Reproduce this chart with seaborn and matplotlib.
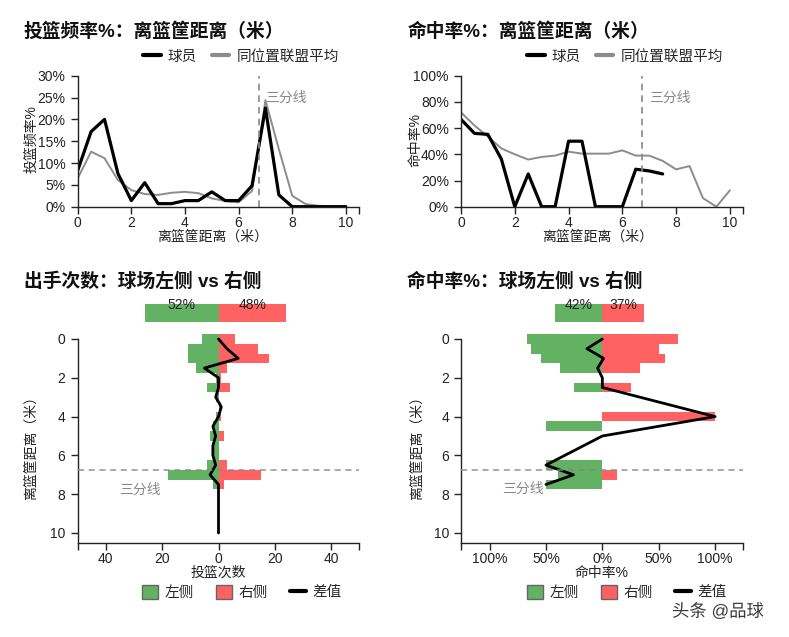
import numpy as np
import pandas as pd
import matplotlib
matplotlib.use("Agg")
import matplotlib.pyplot as plt
import matplotlib.patheffects as pe
import seaborn as sns
from matplotlib.lines import Line2D
from matplotlib.patches import Patch

# ---------------- data ----------------
dist = [0, 0.5, 1, 1.5, 2, 2.5, 3, 3.5, 4, 4.5, 5, 5.5, 6, 6.5, 7, 7.5, 8, 8.5, 9, 9.5, 10]

freq_player = [8.3, 17.2, 20.0, 7.6, 1.4, 5.5, 0.7, 0.7, 1.4, 1.4, 3.4, 1.4, 1.4, 4.8, 22.6, 2.7,
               0, 0, 0, 0, 0]
freq_league = [6.5, 12.6, 11.1, 6.1, 3.8, 2.9, 2.7, 3.2, 3.4, 3.1, 1.9, 1.3, 1.0, 3.6, 24.4, 13.2,
               2.5, 0.6, 0.2, 0.1, 0.1]

nan = np.nan
fg_player = [66.7, 56.0, 55.2, 36.4, 0, 25.0, 0, 0, 50, 50, 0, 0, 0, 28.6, 27.3, 25.0,
             nan, nan, nan, nan, nan]
fg_league = [72, 62, 53.5, 44.5, 40, 36, 38, 39, 42, 40.5, 40.5, 40.5, 43, 39, 39, 35,
             28.5, 31, 6.5, 0, 12.5]

left_cnt = [6, 11, 11, 8, 1, 4, 1, 0, 1, 2, 3, 2, 2, 4, 18, 2, 0, 0, 0, 0, 0]
right_cnt = [6, 14, 18, 3, 1, 4, 0, 1, 1, 0, 2, 0, 0, 3, 15, 2, 0, 0, 0, 0, 0]
cnt_diff = [0, 3, 7, -5, 0, 0, -1, 1, 0, -2, -1, -2, -2, -1, -3, 0, 0, 0, 0, 0, 0]

left_fg = [66.7, 63.6, 54.5, 37.5, 0, 25, 0, nan, 0, 50, 0, 0, 0, 50, 38.9, 50,
           nan, nan, nan, nan, nan]
right_fg = [66.7, 50, 55.6, 33.3, 0, 25, nan, 0, 100, nan, 0, nan, nan, 0, 13.3, 0,
            nan, nan, nan, nan, nan]
fg_diff = [0, -13.6, 1.1, -4.2, 0, 0, nan, nan, 100, nan, 0, nan, nan, -50, -25.6, -50,
           nan, nan, nan, nan, nan]

cnt_share = [52, 48]      # % of shots left / right
fg_total = [42, 37]       # FG% left / right

three_pt = 6.75

# ---------------- style ----------------
sns.set_style("ticks")
plt.rcParams["font.family"] = ["Liberation Sans", "Noto Sans CJK SC"]
plt.rcParams["axes.unicode_minus"] = False
plt.rcParams["axes.edgecolor"] = "#222222"
plt.rcParams["xtick.color"] = "#222222"
plt.rcParams["ytick.color"] = "#222222"
plt.rcParams["axes.linewidth"] = 1.0

GREEN = "#63b163"
RED = "#fe6262"
GRAY = "#8c8c8c"
DASH = "#888888"
TXT = "#222222"

fig = plt.figure(figsize=(7.89, 6.37), dpi=100)
W, H = 789.0, 637.0


def ax_rect(x0, x1, ytop, ybot):
    return [x0 / W, 1 - ybot / H, (x1 - x0) / W, (ybot - ytop) / H]


ax1 = fig.add_axes(ax_rect(77.7, 359.3, 75.7, 206.7))
ax2 = fig.add_axes(ax_rect(461.0, 743.3, 75.7, 206.7))
ax3 = fig.add_axes(ax_rect(77.7, 359.3, 296.3, 542.7))
ax4 = fig.add_axes(ax_rect(461.4, 743.3, 296.3, 542.7))

for ax in (ax1, ax2, ax3, ax4):
    ax.tick_params(axis="both", labelsize=10, length=4.8, width=1.0, labelcolor=TXT)
    ax.tick_params(axis="x", pad=2)
    ax.tick_params(axis="y", pad=4)

df_top = pd.DataFrame({"dist": dist, "freq_player": freq_player, "freq_league": freq_league,
                       "fg_player": fg_player, "fg_league": fg_league})

# ---------- top-left: shot frequency ----------
sns.lineplot(data=df_top, x="dist", y="freq_league", color=GRAY, lw=1.4, ax=ax1)
sns.lineplot(data=df_top, x="dist", y="freq_player", color="black", lw=2.3, ax=ax1)
ax1.axvline(three_pt, color=DASH, ls=(0, (4, 3)), lw=1.2)
ax1.text(7.0, 25, "三分线", color=DASH, fontsize=10, va="center", ha="left")
ax1.set_xlim(0, 10.5)
ax1.set_ylim(0, 30)
ax1.set_xticks([0, 2, 4, 6, 8, 10, 10.5])
ax1.set_xticklabels(["0", "2", "4", "6", "8", "10", ""])
ax1.set_yticks([0, 5, 10, 15, 20, 25, 30])
ax1.set_yticklabels([f"{v}%" for v in [0, 5, 10, 15, 20, 25, 30]])
ax1.set_xlabel("离篮筐距离（米）", fontsize=10, color=TXT)
ax1.set_ylabel("投篮频率%", fontsize=10, color=TXT)
ax1.xaxis.set_label_coords(0.48, -0.175)
ax1.yaxis.set_label_coords(-0.14, 0.52)
sns.despine(ax=ax1)

# ---------- top-right: FG% ----------
sns.lineplot(data=df_top, x="dist", y="fg_league", color=GRAY, lw=1.4, ax=ax2)
sns.lineplot(data=df_top, x="dist", y="fg_player", color="black", lw=2.3, ax=ax2)
ax2.axvline(three_pt, color=DASH, ls=(0, (4, 3)), lw=1.2)
ax2.text(7.0, 83.5, "三分线", color=DASH, fontsize=10, va="center", ha="left")
ax2.set_xlim(0, 10.5)
ax2.set_ylim(0, 100)
ax2.set_xticks([0, 2, 4, 6, 8, 10, 10.5])
ax2.set_xticklabels(["0", "2", "4", "6", "8", "10", ""])
ax2.set_yticks([0, 20, 40, 60, 80, 100])
ax2.set_yticklabels([f"{v}%" for v in [0, 20, 40, 60, 80, 100]])
ax2.set_xlabel("离篮筐距离（米）", fontsize=10, color=TXT)
ax2.set_ylabel("命中率%", fontsize=10, color=TXT)
ax2.xaxis.set_label_coords(0.4835, -0.175)
ax2.yaxis.set_label_coords(-0.135, 0.51)
sns.despine(ax=ax2)

# ---------- bottom-left: shot counts left vs right ----------
d = np.array(dist)
lc = np.array(left_cnt, dtype=float)
rc = np.array(right_cnt, dtype=float)
ax3.barh(d, -lc, height=0.5, color=GREEN, lw=0)
ax3.barh(d, rc, height=0.5, color=RED, lw=0)
ax3.barh(-1.34, -cnt_share[0] / 2, height=0.9, color=GREEN, lw=0)
ax3.barh(-1.34, cnt_share[1] / 2, height=0.9, color=RED, lw=0)
ax3.text(-cnt_share[0] / 4, -1.75, f"{cnt_share[0]}%", ha="center", va="center", fontsize=10, color=TXT)
ax3.text(cnt_share[1] / 4, -1.75, f"{cnt_share[1]}%", ha="center", va="center", fontsize=10, color=TXT)
df_cnt = pd.DataFrame({"dist": dist, "diff": cnt_diff})
sns.lineplot(data=df_cnt, x="diff", y="dist", sort=False, orient="y", estimator=None,
             color="black", lw=2.0, ax=ax3)
ax3.axhline(three_pt, color=DASH, ls=(0, (4, 3)), lw=1.1, alpha=0.9, zorder=3)
ax3.text(-27.8, 7.78, "三分线", color=DASH, fontsize=10, ha="center", va="center")
ax3.set_xlim(-50, 50)
ax3.set_ylim(10.5, -2.2)
ax3.set_xticks([-50, -40, -20, 0, 20, 40, 50])
ax3.set_xticklabels(["", "40", "20", "0", "20", "40", ""])
ax3.set_yticks([0, 2, 4, 6, 8, 10])
ax3.set_yticklabels(["0", "2", "4", "6", "8", "10"])
sns.despine(ax=ax3)
ax3.spines["left"].set_bounds(0, 10.5)
ax3.set_xlabel("投篮次数", fontsize=10, color=TXT)
ax3.set_ylabel("离篮筐距离（米）", fontsize=10, color=TXT)
ax3.xaxis.set_label_coords(0.4995, -0.094)
ax3.yaxis.set_label_coords(-0.14, 0.40)

# ---------- bottom-right: FG% left vs right ----------
lf = np.array(left_fg, dtype=float)
rf = np.array(right_fg, dtype=float)
ml = ~np.isnan(lf)
mr = ~np.isnan(rf)
ax4.barh(d[ml], -lf[ml], height=0.5, color=GREEN, lw=0)
ax4.barh(d[mr], rf[mr], height=0.5, color=RED, lw=0)
ax4.barh(-1.34, -fg_total[0], height=0.9, color=GREEN, lw=0)
ax4.barh(-1.34, fg_total[1], height=0.9, color=RED, lw=0)
ax4.text(-fg_total[0] / 2, -1.75, f"{fg_total[0]}%", ha="center", va="center", fontsize=10, color=TXT)
ax4.text(fg_total[1] / 2, -1.75, f"{fg_total[1]}%", ha="center", va="center", fontsize=10, color=TXT)
df_fg = pd.DataFrame({"dist": dist, "diff": fg_diff})
sns.lineplot(data=df_fg, x="diff", y="dist", sort=False, orient="y", estimator=None,
             color="black", lw=2.0, ax=ax4)
ax4.axhline(three_pt, color=DASH, ls=(0, (4, 3)), lw=1.1, alpha=0.9, zorder=3)
ax4.text(-70, 7.72, "三分线", color=DASH, fontsize=10, ha="center", va="center")
ax4.set_xlim(-125, 125)
ax4.set_ylim(10.5, -2.2)
ax4.set_xticks([-125, -100, -50, 0, 50, 100, 125])
ax4.set_xticklabels(["", "100%", "50%", "0%", "50%", "100%", ""])
ax4.set_yticks([0, 2, 4, 6, 8, 10])
ax4.set_yticklabels(["0", "2", "4", "6", "8", "10"])
sns.despine(ax=ax4)
ax4.spines["left"].set_bounds(0, 10.5)
ax4.set_xlabel("命中率%", fontsize=10, color=TXT)
ax4.set_ylabel("离篮筐距离（米）", fontsize=10, color=TXT)
ax4.xaxis.set_label_coords(0.4977, -0.094)
ax4.yaxis.set_label_coords(-0.135, 0.40)

# ---------- titles ----------
title_kw = dict(fontsize=13.5, fontweight="bold", ha="left", va="center", color="#111111")
fig.text(24 / W, 1 - 31.7 / H, "投篮频率%：离篮筐距离（米）", **title_kw)
fig.text(408 / W, 1 - 31.7 / H, "命中率%：离篮筐距离（米）", **title_kw)
fig.text(24 / W, 1 - 281.7 / H, "出手次数：球场左侧 vs 右侧", **title_kw)
fig.text(407 / W, 1 - 281.7 / H, "命中率%：球场左侧 vs 右侧", **title_kw)

# ---------- legends ----------
line_handles = [Line2D([], [], color="black", lw=3), Line2D([], [], color=GRAY, lw=3)]
leg_kw = dict(loc="center", ncol=2, frameon=False, handlelength=1.2, handletextpad=0.5,
              columnspacing=1.0, fontsize=10.5)
fig.legend(line_handles, ["球员", "同位置联盟平均"], bbox_to_anchor=(241 / W, 1 - 56.5 / H), **leg_kw)
fig.legend(line_handles, ["球员", "同位置联盟平均"], bbox_to_anchor=(625 / W, 1 - 56.5 / H), **leg_kw)

bar_handles = [Patch(facecolor=GREEN, edgecolor="#666666", lw=1),
               Patch(facecolor=RED, edgecolor="#666666", lw=1),
               Line2D([], [], color="black", lw=3)]
leg2_kw = dict(loc="center", ncol=3, frameon=False, handlelength=1.1, handleheight=1.1,
               handletextpad=0.45, columnspacing=1.5, fontsize=10.5)
fig.legend(bar_handles, ["左侧", "右侧", "差值"], bbox_to_anchor=(242 / W, 1 - 592 / H), **leg2_kw)
fig.legend(bar_handles, ["左侧", "右侧", "差值"], bbox_to_anchor=(627 / W, 1 - 592 / H), **leg2_kw)

# ---------- watermark ----------
fig.text(718 / W, 1 - 611 / H, "头条 @品球", fontsize=12.5, color="#3a3a3a", ha="center", va="center",
         path_effects=[pe.withStroke(linewidth=2.5, foreground="white")])

fig.savefig("out.png", dpi=100, facecolor="white")
